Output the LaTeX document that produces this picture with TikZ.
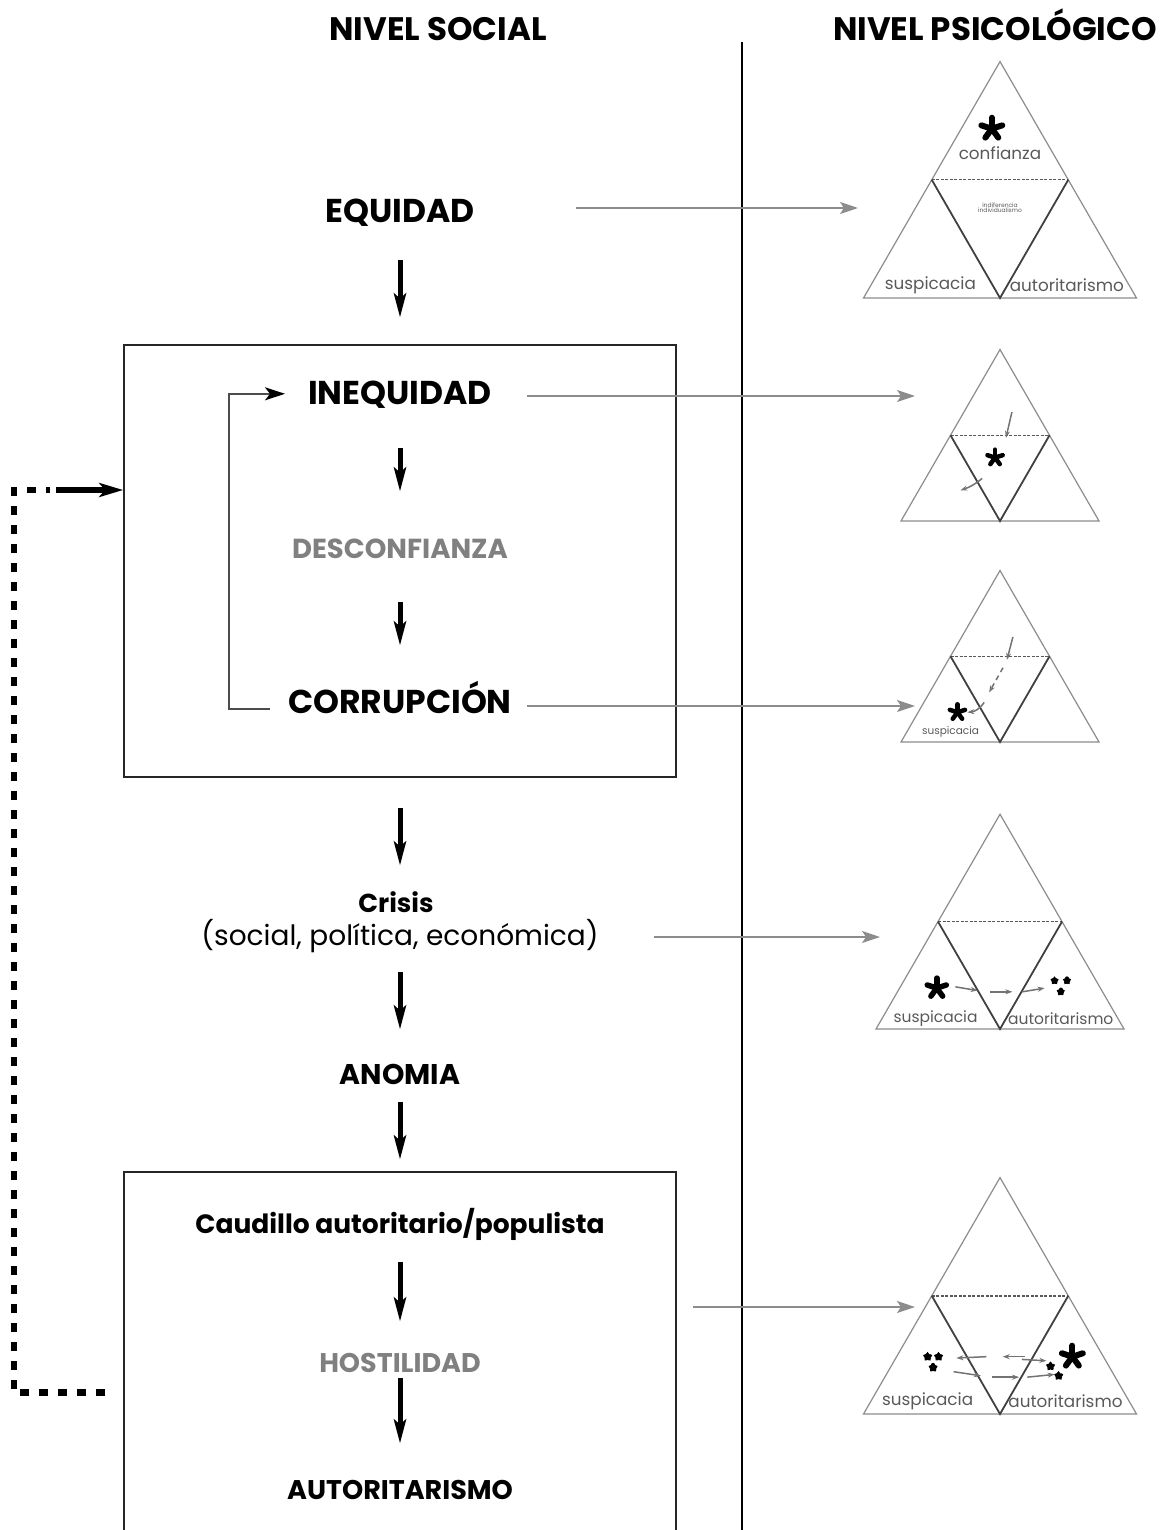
\documentclass[tikz,border=0pt]{standalone}
\usepackage{fontspec}
\setmainfont{Poppins}
\usetikzlibrary{arrows.meta}

\tikzset{
  titulo/.style={font=\fontsize{32.5}{34}\selectfont\bfseries, anchor=south, inner sep=0pt},
  etapa/.style={font=\fontsize{30}{32}\selectfont\bfseries, anchor=south, inner sep=0pt,
    text height=24pt, text depth=0pt},
  tenue/.style={etapa, text=black!50},
  detalle/.style={font=\fontsize{28}{30}\selectfont, anchor=south, inner sep=0pt,
    text height=24pt, text depth=0pt},
  caja/.style={draw=black!85, line width=1.6pt, inner sep=0pt},
  bajada/.style={line width=5pt, -{Stealth[length=24pt, width=12pt, inset=5pt]}},
  hacia/.style={black!45, line width=2pt, -{Stealth[length=18pt, width=12pt, inset=4pt]}},
  lazo/.style={black!70, line width=2pt, -{Stealth[length=20pt, width=13pt, inset=5pt, black]}},
  retorno/.style={line width=6.5pt, dash pattern=on 9pt off 10pt},
  retornofin/.style={line width=6.5pt, -{Stealth[length=24pt, width=14pt, inset=6pt]}},
  borde/.style={black!45, line width=1.2pt, line join=miter},
  interior/.style={black!75, line width=1.8pt},
  medio/.style={black!65, line width=1.4pt, dash pattern=on 3pt off 1.5pt},
  rotulo/.style={font=\fontsize{16.8}{18}\selectfont, text=black!65, inner sep=0pt},
  flechita/.style={black!55, line width=1.5pt, -{Stealth[length=7pt, width=5pt]}}
}

% triangulo de referencia: base en y=0, ancho 2
\newcommand\triangulo{%
  \draw[borde] (0,1.732) -- (1,0) -- (-1,0) -- cycle;
  \draw[medio] (-0.5,0.866) -- (0.5,0.866);
  \draw[interior] (-0.5,0.866) -- (0,0) -- (0.5,0.866);
}
\newcommand\asterisco[3]{%
  \foreach \ang in {90,162,234,306,18}
    \draw[line width=#3, line cap=round] (#1) -- ++(\ang:#2);
}

\begin{document}
\begin{tikzpicture}[x=1pt, y=-1pt]
  \useasboundingbox (0,0) rectangle (1167,1530);

  % encabezados
  \node[titulo] (social) at (438,41) {NIVEL SOCIAL};
  \node[titulo] (psico) at (995,41) {NIVEL PSICOLÓGICO};
  \draw[line width=1.6pt] (742,42) -- (742,1530);

  % nivel social
  \node[caja, minimum width=552pt, minimum height=432pt] (bloque1) at (400,561) {};
  \node[caja, minimum width=552pt, minimum height=373pt] (bloque2) at (400,1358.5) {};

  \node[etapa, font=\fontsize{33}{35}\selectfont\bfseries] (equidad) at (400,223) {EQUIDAD};
  \node[etapa, font=\fontsize{33}{35}\selectfont\bfseries] (inequidad) at (400,405) {INEQUIDAD};
  \node[tenue, font=\fontsize{27.5}{29}\selectfont\bfseries] (desconfianza) at (400,559) {DESCONFIANZA};
  \node[etapa, font=\fontsize{33}{35}\selectfont\bfseries] (corrupcion) at (400,714) {CORRUPCIÓN};
  \node[etapa, font=\fontsize{26}{28}\selectfont\bfseries] (crisis) at (396,913) {Crisis};
  \node[detalle] (crisisdet) at (400,946) {(social, política, económica)};
  \node[etapa, font=\fontsize{28.5}{30}\selectfont\bfseries] (anomia) at (400,1085) {ANOMIA};
  \node[etapa, font=\fontsize{26.5}{28}\selectfont\bfseries] (caudillo) at (400,1234) {Caudillo autoritario/populista};
  \node[tenue, font=\fontsize{27}{29}\selectfont\bfseries] (hostilidad) at (400,1373) {HOSTILIDAD};
  \node[etapa, font=\fontsize{27}{29}\selectfont\bfseries] (autoritarismo) at (400,1500) {AUTORITARISMO};

  \draw[bajada, shorten <=37pt, shorten >=63pt] (equidad) -- (inequidad);
  \draw[bajada, shorten <=43pt, shorten >=43pt] (inequidad) -- (desconfianza);
  \draw[bajada, shorten <=43pt, shorten >=44pt] (desconfianza) -- (corrupcion);
  \draw[bajada, shorten <=94pt, shorten >=23pt] (corrupcion) -- (corrupcion |- crisis.north);
  \draw[bajada, shorten <=26pt, shorten >=31pt] (crisisdet) -- (anomia);
  \draw[bajada, shorten <=17pt, shorten >=50pt] (anomia) -- (caudillo);
  \draw[bajada, shorten <=28pt, shorten >=27pt] (caudillo) -- (hostilidad);
  \draw[bajada, shorten <=5pt, shorten >=32pt] (hostilidad) -- (autoritarismo);

  % bucle interno
  \draw[lazo] ([xshift=-130pt, yshift=-7pt]corrupcion.center) -- ++(-41,0)
    |- ([xshift=-115pt, yshift=-1pt]inequidad.center);

  % retorno punteado
  \coordinate (codo) at (14,490);
  \draw[retorno] ([xshift=-18pt, yshift=-34pt]bloque2.west) -| (codo) -- ++(36,0);
  \draw[retornofin] (codo) ++(42,0) -- ([yshift=71pt]bloque1.west);

  % hacia el nivel psicologico
  \coordinate (t1) at (858,208);
  \coordinate (t2) at (915,396);
  \coordinate (t3) at (915,706);
  \coordinate (t4) at (880,937);
  \coordinate (t5) at (915,1307);
  \draw[hacia, shorten <=176pt] (equidad.center |- t1) -- (t1);
  \draw[hacia, shorten <=127pt] (inequidad.center |- t2) -- (t2);
  \draw[hacia, shorten <=127pt] (corrupcion.center |- t3) -- (t3);
  \draw[hacia, shorten <=254pt] (crisisdet.center |- t4) -- (t4);
  \draw[hacia, shorten <=16pt] (bloque2.east |- t5) -- (t5);

  % triangulo 1
  \begin{scope}[shift={(1000,298)}, x=136.5pt, y=136.5pt]
    \triangulo
    \asterisco{-0.06,1.24}{11pt}{6pt}
    \node[rotulo] (confianza) at (0,1.06) {confianza};
    \node[rotulo, font=\fontsize{6}{6}\selectfont, align=center] (indif) at (0,0.66)
      {indiferencia\\[-1pt]individualismo};
    \node[rotulo] (susp1) at (-0.51,0.095) {suspicacia};
    \node[rotulo] (auto1) at (0.49,0.095) {autoritarismo};
  \end{scope}

  % triangulo 2
  \begin{scope}[shift={(1000,521)}, x=99pt, y=99pt]
    \triangulo
    \draw[flechita] (0.12,1.10) -- (0.06,0.84);
    \asterisco{-0.05,0.64}{8pt}{4.5pt}
    \draw[flechita] (-0.18,0.43) to[bend left=10] (-0.4,0.31);
  \end{scope}

  % triangulo 3
  \begin{scope}[shift={(1000,742)}, x=99pt, y=99pt]
    \triangulo
    \draw[flechita] (0.13,1.06) -- (0.07,0.83);
    \draw[flechita, dash pattern=on 5pt off 4pt] (0.03,0.75) -- (-0.11,0.5);
    \draw[flechita] (-0.16,0.40) to[bend left=25] (-0.33,0.30);
    \asterisco{-0.43,0.3}{8pt}{4.5pt}
    \node[rotulo, font=\fontsize{10.5}{11}\selectfont] (susp3) at (-0.5,0.1) {suspicacia};
  \end{scope}

  % triangulo 4
  \begin{scope}[shift={(1000,1029)}, x=124pt, y=124pt]
    \triangulo
    \asterisco{-0.51,0.33}{10pt}{5.5pt}
    \asterisco{0.44,0.39}{2.5pt}{3.5pt}
    \asterisco{0.54,0.39}{2.5pt}{3.5pt}
    \asterisco{0.49,0.30}{2.5pt}{3.5pt}
    \draw[flechita] (-0.36,0.34) -- (-0.18,0.31);
    \draw[flechita] (-0.08,0.30) -- (0.10,0.30);
    \draw[flechita] (0.18,0.30) -- (0.36,0.33);
    \node[rotulo, font=\fontsize{15.5}{17}\selectfont] (susp4) at (-0.52,0.08) {suspicacia};
    \node[rotulo, font=\fontsize{15.5}{17}\selectfont] (auto4) at (0.49,0.08) {autoritarismo};
  \end{scope}

  % triangulo 5
  \begin{scope}[shift={(1000,1414)}, x=136.5pt, y=136.5pt]
    \triangulo
    \asterisco{-0.53,0.42}{3pt}{3.5pt}
    \asterisco{-0.45,0.42}{3pt}{3.5pt}
    \asterisco{-0.49,0.34}{3pt}{3.5pt}
    \asterisco{0.37,0.35}{3pt}{3.5pt}
    \asterisco{0.43,0.28}{3pt}{3.5pt}
    \asterisco{0.53,0.42}{11pt}{6pt}
    \draw[flechita] (-0.10,0.42) -- (-0.32,0.41);
    \draw[flechita] (0.18,0.42) -- (0.02,0.42);
    \draw[flechita] (0.16,0.40) -- (0.34,0.39);
    \draw[flechita] (-0.34,0.31) -- (-0.14,0.28);
    \draw[flechita] (-0.06,0.27) -- (0.14,0.27);
    \draw[flechita] (0.20,0.27) -- (0.40,0.29);
    \node[rotulo] (susp5) at (-0.53,0.095) {suspicacia};
    \node[rotulo] (auto5) at (0.48,0.095) {autoritarismo};
  \end{scope}
\end{tikzpicture}
\end{document}
